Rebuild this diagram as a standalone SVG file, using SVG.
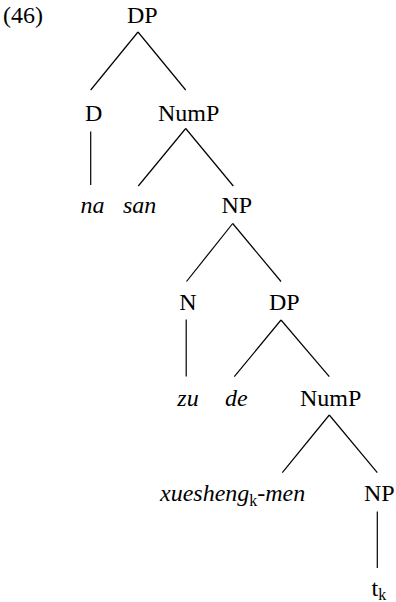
<svg xmlns="http://www.w3.org/2000/svg" width="396" height="602" viewBox="0 0 396 602">
<style>
text{font-family:"Liberation Serif","Times New Roman",serif;font-size:24px;fill:#000}
.i{font-style:italic}
.sub{font-size:16px;font-style:normal}
line{stroke:#000;stroke-width:1.2}
</style>
<rect width="396" height="602" fill="#fff"/>
<text x="3" y="23">(46)</text>
<g id="connectors">
<line x1="138" y1="32" x2="90.7" y2="90"/>
<line x1="138" y1="32" x2="185.7" y2="90"/>
<line x1="90.7" y1="131.5" x2="90.7" y2="185"/>
<line x1="185.7" y1="128.5" x2="138.3" y2="186"/>
<line x1="185.7" y1="128.5" x2="233.3" y2="186"/>
<line x1="232.7" y1="223.5" x2="186.5" y2="281.5"/>
<line x1="232.7" y1="223.5" x2="281" y2="281.5"/>
<line x1="186.2" y1="319.5" x2="186.2" y2="376.5"/>
<line x1="281" y1="320" x2="234.3" y2="376.7"/>
<line x1="281" y1="320" x2="329.3" y2="376.7"/>
<line x1="329.3" y1="415" x2="282.3" y2="472.7"/>
<line x1="329.3" y1="415" x2="377.3" y2="472.7"/>
<line x1="377.3" y1="511.5" x2="377.3" y2="568"/>
</g>
<g id="n-dp1"><text x="127" y="23">DP</text></g>
<g id="n-d"><text x="85" y="121">D</text></g>
<g id="n-nump1"><text x="158" y="121">NumP</text></g>
<g id="n-na"><text class="i" x="80.5" y="213">na</text></g>
<g id="n-san"><text class="i" x="123" y="213">san</text></g>
<g id="n-np1"><text x="221.5" y="213">NP</text></g>
<g id="n-n"><text x="179.3" y="310">N</text></g>
<g id="n-dp2"><text x="269" y="310">DP</text></g>
<g id="n-zu"><text class="i" x="177.3" y="406">zu</text></g>
<g id="n-de"><text class="i" x="225" y="406">de</text></g>
<g id="n-nump2"><text x="300" y="406">NumP</text></g>
<g id="n-xuesheng"><text class="i" x="160" y="501">xuesheng<tspan class="sub" dy="5">k</tspan><tspan dy="-5">-men</tspan></text></g>
<g id="n-np2"><text x="364" y="501">NP</text></g>
<g id="n-t"><text x="371.5" y="596">t<tspan class="sub" dy="4">k</tspan></text></g>
</svg>
